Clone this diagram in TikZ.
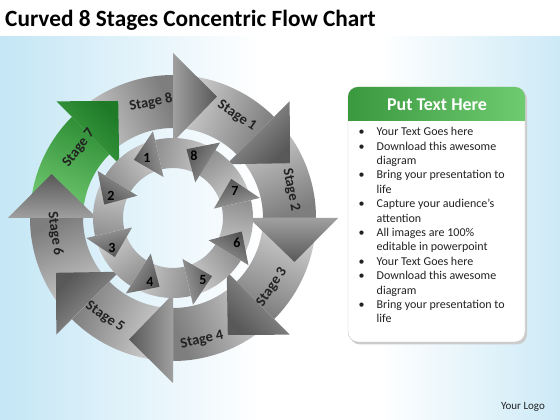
\documentclass[tikz,border=0pt]{standalone}
\usepackage{fontspec}
\setmainfont{Carlito}

\definecolor{bgblue}{HTML}{C4E6F5}
\definecolor{bodylight}{HTML}{D4D4D4}
\definecolor{bodydark}{HTML}{7E7E7E}
\definecolor{headlight}{HTML}{A0A0A0}
\definecolor{headdark}{HTML}{585858}
\definecolor{greenlight}{HTML}{74CB74}
\definecolor{greendark}{HTML}{2F8F36}
\definecolor{greenheadlight}{HTML}{45A549}
\definecolor{greenheaddark}{HTML}{1E7A27}
\definecolor{innerlight}{HTML}{D0D0D0}
\definecolor{innerdark}{HTML}{929292}
\definecolor{innerheadlight}{HTML}{9C9C9C}
\definecolor{innerheaddark}{HTML}{555555}
\definecolor{hdrdark}{HTML}{3A983F}
\definecolor{hdrlight}{HTML}{6FCB70}
\definecolor{txtgrey}{HTML}{222222}

\tikzset{
  stagelbl/.style={font=\fontsize{14.5}{16}\selectfont\bfseries, text=txtgrey, inner sep=0},
  numlbl/.style={font=\fontsize{14}{16}\selectfont\bfseries, text=black, inner sep=0}
}

\begin{document}
\begin{tikzpicture}[x=1pt,y=1pt]
 \useasboundingbox (0,0) rectangle (560,420);
 % background
 \fill[white] (0,0) rectangle (560,420);
 \shade[left color=bgblue, right color=white] (0,0) rectangle (260,383);
 \shade[left color=white, right color=bgblue!85] (380,0) rectangle (560,383);

 \node[anchor=base west, inner sep=0, font=\fontsize{23.3}{27}\selectfont\bfseries] (title) at (5,393) {Curved 8 Stages Concentric Flow Chart};

 \coordinate (ctr) at (173,202);

 % outer ring, clockwise
 \foreach \ang/\lo/\hi in {90/bodylight/bodydark,45/bodylight/bodydark,0/bodylight/bodydark,-45/bodylight/bodydark,-90/bodylight/bodydark,-135/bodylight/bodydark,180/bodylight/bodydark,135/greenlight/greendark}{
  \pgfmathsetmacro\sa{\ang-157.5}
  \shade[bottom color=\lo, top color=\hi, shading angle=\sa]
   ([shift={(\ang+45:143)}]ctr) arc[start angle=\ang+45, end angle=\ang, radius=143]
   -- ([shift={(\ang:90)}]ctr) arc[start angle=\ang, end angle=\ang+45, radius=90] -- cycle;
 }
 \foreach \ang/\lo/\hi in {90/headlight/headdark,45/headlight/headdark,0/headlight/headdark,-45/headlight/headdark,-90/headlight/headdark,-135/headlight/headdark,180/headlight/headdark,135/greenheadlight/greenheaddark}{
  \pgfmathsetmacro\sa{\ang-180}
  \shade[bottom color=\lo, top color=\hi, shading angle=\sa]
   ([shift={(\ang:76)}]ctr) -- ([shift={(\ang:165)}]ctr) -- ([shift={(\ang-19.9:129.2)}]ctr) -- cycle;
 }

 % inner ring, counter-clockwise
 \foreach \ang in {103,148,...,418}{
  \pgfmathsetmacro\sa{\ang-22.5}
  \shade[bottom color=innerlight, top color=innerdark, shading angle=\sa]
   ([shift={(\ang-45:80)}]ctr) arc[start angle=\ang-45, end angle=\ang, radius=80]
   -- ([shift={(\ang:50)}]ctr) arc[start angle=\ang, end angle=\ang-45, radius=50] -- cycle;
 }
 \foreach \ang in {103,148,...,418}{
  \shade[bottom color=innerheadlight, top color=innerheaddark, shading angle=\ang]
   ([shift={(\ang:42)}]ctr) -- ([shift={(\ang:89)}]ctr) -- ([shift={(\ang+20.9:70.1)}]ctr) -- cycle;
 }

 \node[stagelbl, rotate=11] (stage8) at (151,317) {Stage 8};
 \node[stagelbl, rotate=-34] (stage1) at (237,304) {Stage 1};
 \node[stagelbl, rotate=-79] (stage2) at (291,230) {Stage 2};
 \node[stagelbl, rotate=56] (stage3) at (272,133) {Stage 3};
 \node[stagelbl, rotate=13] (stage4) at (202,80) {Stage 4};
 \node[stagelbl, rotate=-34] (stage5) at (105,103) {Stage 5};
 \node[stagelbl, rotate=-82] (stage6) at (55,186) {Stage 6};
 \node[stagelbl, rotate=53] (stage7) at (79,272) {Stage 7};

 \node[numlbl] (num1) at (147,262) {1};
 \node[numlbl] (num2) at (111,224) {2};
 \node[numlbl] (num3) at (112,172) {3};
 \node[numlbl] (num4) at (150,138) {4};
 \node[numlbl] (num5) at (203,140) {5};
 \node[numlbl] (num6) at (237,177) {6};
 \node[numlbl] (num7) at (235,229) {7};
 \node[numlbl] (num8) at (194,264) {8};

 % text panel
 \fill[gray!40, rounded corners=10pt] (350,75.5) rectangle (527,331);
 \node[draw=gray!45, fill=white, rounded corners=10pt, minimum width=177pt, minimum height=255pt, inner sep=0] (panel) at (436.5,205.5) {};
 \begin{scope}
  \clip[rounded corners=10pt] (348,78) rectangle (525,333);
  \shade[left color=hdrdark, right color=hdrlight] (348,299) rectangle (525,333);
 \end{scope}
 \node[font=\fontsize{18}{20}\selectfont\bfseries, text=white] (hdr) at (437,315) {Put Text Here};
 \node[anchor=north west, inner sep=0, text=txtgrey] (list) at (358.5,294.5) {\fontsize{12}{14.4}\selectfont
  \begin{tabular}{@{}p{18pt}@{}l@{}}
   \textbullet & Your Text Goes here\\
   \textbullet & Download this awesome\\
               & diagram\\
   \textbullet & Bring your presentation to\\
               & life\\
   \textbullet & Capture your audience’s\\
               & attention\\
   \textbullet & All images are 100\%\\
               & editable in powerpoint\\
   \textbullet & Your Text Goes here\\
   \textbullet & Download this awesome\\
               & diagram\\
   \textbullet & Bring your presentation to\\
               & life
  \end{tabular}};

 \node[font=\fontsize{11}{13}\selectfont, text=txtgrey] (logo) at (523,13) {Your Logo};
\end{tikzpicture}
\end{document}
